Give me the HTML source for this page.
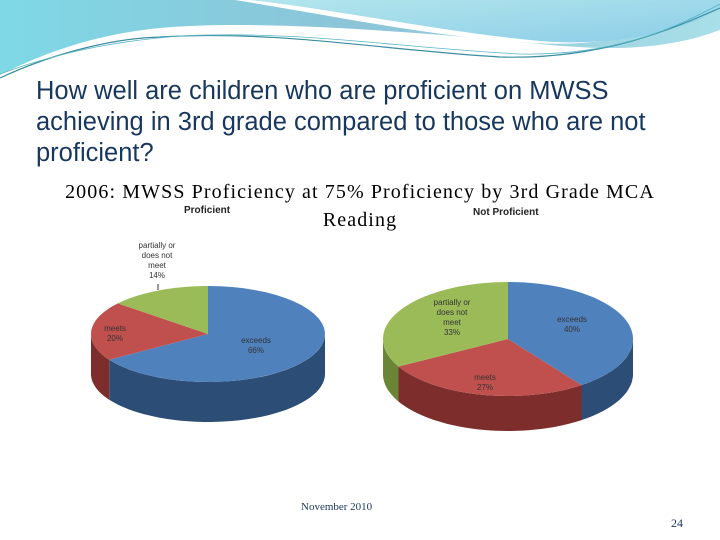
<!DOCTYPE html>
<html><head><meta charset="utf-8"><style>
html,body{margin:0;padding:0;background:#fff;}
#slide{position:relative;width:720px;height:540px;overflow:hidden;font-family:"Liberation Sans",sans-serif;}
.t{position:absolute;white-space:nowrap;}
</style></head><body>
<div id="slide">
<svg width="720" height="540" style="position:absolute;left:0;top:0">
<defs>
<linearGradient id="bg1" x1="0" y1="0" x2="1" y2="0"><stop offset="0" stop-color="#7fd8e6"/><stop offset="0.5" stop-color="#8cc4d8"/><stop offset="1" stop-color="#a9dfe8"/></linearGradient>
<linearGradient id="bg2" x1="0" y1="0" x2="1" y2="1"><stop offset="0" stop-color="#b3e6ec"/><stop offset="1" stop-color="#8ccde8"/></linearGradient>
</defs>
<g>
<path d="M0,0 H720 V30 C640,60 560,45 480,38 C380,30 250,20 160,28 C90,35 40,55 0,75 Z" fill="url(#bg1)"/>
<path d="M235,0 H720 V5 C680,30 600,50 520,42 C420,35 330,15 235,0 Z" fill="#fff"/>
<path d="M250,0 H720 V8 C680,35 600,48 530,40 C430,30 340,10 250,0 Z" fill="url(#bg2)"/>
<path d="M0,78 C60,50 120,38 160,37 C280,30 380,50 500,57 C600,60 670,30 720,8" stroke="#3a8ea0" stroke-width="1.2" fill="none"/>
<path d="M0,74 C70,48 130,40 180,36 C300,30 400,48 520,54 C620,56 680,25 720,4" stroke="#5ab6c6" stroke-width="0.8" fill="none"/>
</g>
<g id="pies"></g>
</svg>
<div class="t" style="left:36px;top:76px;font-size:25.5px;line-height:31px;color:#17375e">How well are children who are proficient on MWSS<br>achieving in 3rd grade compared to those who are not<br>proficient?</div>
<div class="t" style="left:40px;top:178px;width:640px;text-align:center;font-family:'Liberation Serif',serif;font-size:20px;letter-spacing:1.1px;line-height:28px;color:#000">2006: MWSS Proficiency at 75% Proficiency by 3rd Grade MCA<br>Reading</div>
<div class="t" style="left:184px;top:205px;font-size:10px;font-weight:bold;color:#222">Proficient</div>
<div class="t" style="left:473px;top:207px;font-size:10px;font-weight:bold;color:#222">Not Proficient</div>
<div class="t" style="left:301px;top:501px;font-family:'Liberation Serif',serif;font-size:11px;color:#17375e">November 2010</div>
<div class="t" style="left:671px;top:516px;font-family:'Liberation Serif',serif;font-size:12px;color:#17375e">24</div>
</div>
<script>
const categories = ["exceeds","meets","partially or does not meet"];
const proficientValues = [66,20,14];
const notProficientValues = [40,27,33];
const topColors = ["#4f81bd","#c0504d","#9bbb59"];
const sideColors = ["#2c4d75","#7d2e2c","#6a8536"];
const NS="http://www.w3.org/2000/svg";
const g=document.getElementById('pies');
function pt(p,a,dy){return [p.cx+p.rx*Math.sin(a), p.cy-p.ry*Math.cos(a)+(dy||0)];}
function arcPts(p,a0,a1,dy){const r=[];const n=40;for(let i=0;i<=n;i++){r.push(pt(p,a0+(a1-a0)*i/n,dy));}return r;}
function drawPie(p,vals,name){
  const tot=vals.reduce((a,b)=>a+b,0);
  let acc=0;const ang=vals.map(v=>{const a0=acc/tot*2*Math.PI;acc+=v;return [a0,acc/tot*2*Math.PI];});
  ang.forEach((a,i)=>{
    const s=Math.max(a[0],Math.PI/2), e=Math.min(a[1],3*Math.PI/2);
    if(e<=s)return;
    const top=arcPts(p,s,e,0), bot=arcPts(p,e,s,p.d);
    const path=document.createElementNS(NS,'path');
    path.setAttribute('d','M'+top.concat(bot).map(q=>q[0].toFixed(1)+','+q[1].toFixed(1)).join('L')+'Z');
    path.setAttribute('fill',sideColors[i]);
    
    
    g.appendChild(path);
  });
  ang.forEach((a,i)=>{
    const pts=arcPts(p,a[0],a[1],0);
    const path=document.createElementNS(NS,'path');
    path.setAttribute('d','M'+p.cx+','+p.cy+'L'+pts.map(q=>q[0].toFixed(1)+','+q[1].toFixed(1)).join('L')+'Z');
    path.setAttribute('fill',topColors[i]);
    
    
    g.appendChild(path);
  });
  return ang;
}
function label(x,y,lines,name){
  const t=document.createElementNS(NS,'text');
  t.setAttribute('font-family','Liberation Sans, sans-serif');t.setAttribute('font-size','8');
  t.setAttribute('fill','#333');t.setAttribute('text-anchor','middle');
  lines.forEach((l,i)=>{const s=document.createElementNS(NS,'tspan');s.setAttribute('x',x);s.setAttribute('y',y+i*10);s.textContent=l;t.appendChild(s);});
  
  
  g.appendChild(t);
}
const P1={cx:208,cy:334,rx:117,ry:48,d:40};
const P2={cx:508,cy:339,rx:125,ry:57,d:35};
drawPie(P1,proficientValues,'proficient');
drawPie(P2,notProficientValues,'not-proficient');
label(256,343,[categories[0],proficientValues[0]+'%'],'label-proficient-exceeds');
label(115,331,[categories[1],proficientValues[1]+'%'],'label-proficient-meets');
label(157,248,['partially or','does not','meet',proficientValues[2]+'%'],'label-proficient-partial');
const ln=document.createElementNS(NS,'line');
ln.setAttribute('x1',158);ln.setAttribute('y1',284);ln.setAttribute('x2',158);ln.setAttribute('y2',290);ln.setAttribute('stroke','#333');


g.appendChild(ln);
label(572,322,[categories[0],notProficientValues[0]+'%'],'label-notproficient-exceeds');
label(485,380,[categories[1],notProficientValues[1]+'%'],'label-notproficient-meets');
label(452,305,['partially or','does not','meet',notProficientValues[2]+'%'],'label-notproficient-partial');
</script>
</body></html>
